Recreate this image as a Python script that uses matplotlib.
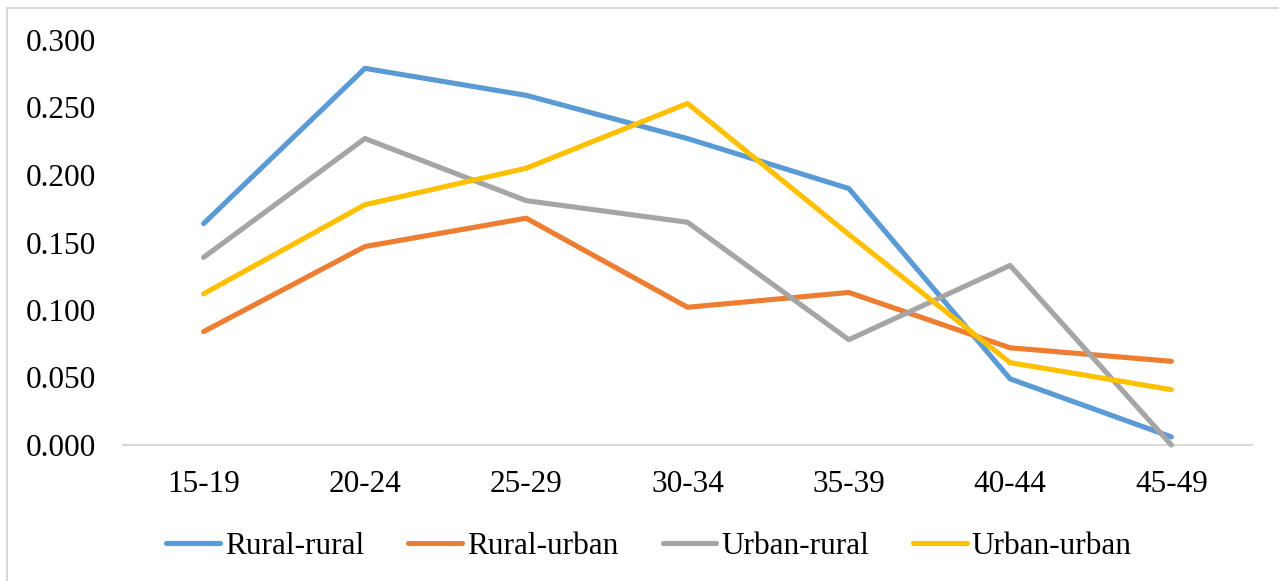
import matplotlib
matplotlib.use("Agg")
import matplotlib.pyplot as plt
from matplotlib.lines import Line2D

age_groups = ["15-19", "20-24", "25-29", "30-34", "35-39", "40-44", "45-49"]
rural_rural = [0.164, 0.279, 0.259, 0.227, 0.190, 0.049, 0.006]
rural_urban = [0.084, 0.147, 0.168, 0.102, 0.113, 0.072, 0.062]
urban_rural = [0.139, 0.227, 0.181, 0.165, 0.078, 0.133, 0.000]
urban_urban = [0.112, 0.178, 0.205, 0.253, 0.156, 0.061, 0.041]

series = [
    ("Rural-rural", rural_rural, "#5B9BD5"),
    ("Rural-urban", rural_urban, "#ED7D31"),
    ("Urban-rural", urban_rural, "#A5A5A5"),
    ("Urban-urban", urban_urban, "#FFC000"),
]

plt.rcParams["font.family"] = ["Liberation Serif", "DejaVu Serif"]
FS = 22.5

W, H = 1279, 581
fig = plt.figure(figsize=(W / 100, H / 100), dpi=100)

# chart frame: light rule along top and left edges
fig.add_artist(Line2D([7 / W, 1], [1 - 8 / H, 1 - 8 / H], color="#d9d9d9", lw=1.5))
fig.add_artist(Line2D([7 / W, 7 / W], [0, 1 - 8 / H], color="#d9d9d9", lw=1.5))

left, right = 123 / W, 1252 / W
bottom, top = 1 - 445 / H, 1 - 40 / H
ax = fig.add_axes([left, bottom, right - left, top - bottom])

x = list(range(len(age_groups)))
for name, vals, col in series:
    ax.plot(x, vals, color=col, lw=3.7, label=name, solid_capstyle="round",
            solid_joinstyle="round", clip_on=False)

ax.set_xlim(-0.5, len(age_groups) - 0.5)
ax.set_ylim(0, 0.3)
ax.set_yticks([0, 0.05, 0.10, 0.15, 0.20, 0.25, 0.30])
ax.set_yticklabels([f"{v:.3f}" for v in ax.get_yticks()], fontsize=FS)
ax.set_xticks(x)
ax.set_xticklabels(age_groups, fontsize=FS)
ax.tick_params(axis="both", length=0)
ax.tick_params(axis="y", pad=19.4)
ax.tick_params(axis="x", pad=18)
for s in ("top", "right", "left"):
    ax.spines[s].set_visible(False)
ax.spines["bottom"].set_color("#d9d9d9")
ax.spines["bottom"].set_linewidth(1.5)
ax.spines["bottom"].set_zorder(0)

leg = fig.legend(loc="center", bbox_to_anchor=(649 / W, 1 - 546 / H), ncol=4,
                 frameon=False, fontsize=FS, handlelength=1.72, handletextpad=0.15,
                 columnspacing=1.42, borderaxespad=0)

fig.savefig("out.png", dpi=100)
